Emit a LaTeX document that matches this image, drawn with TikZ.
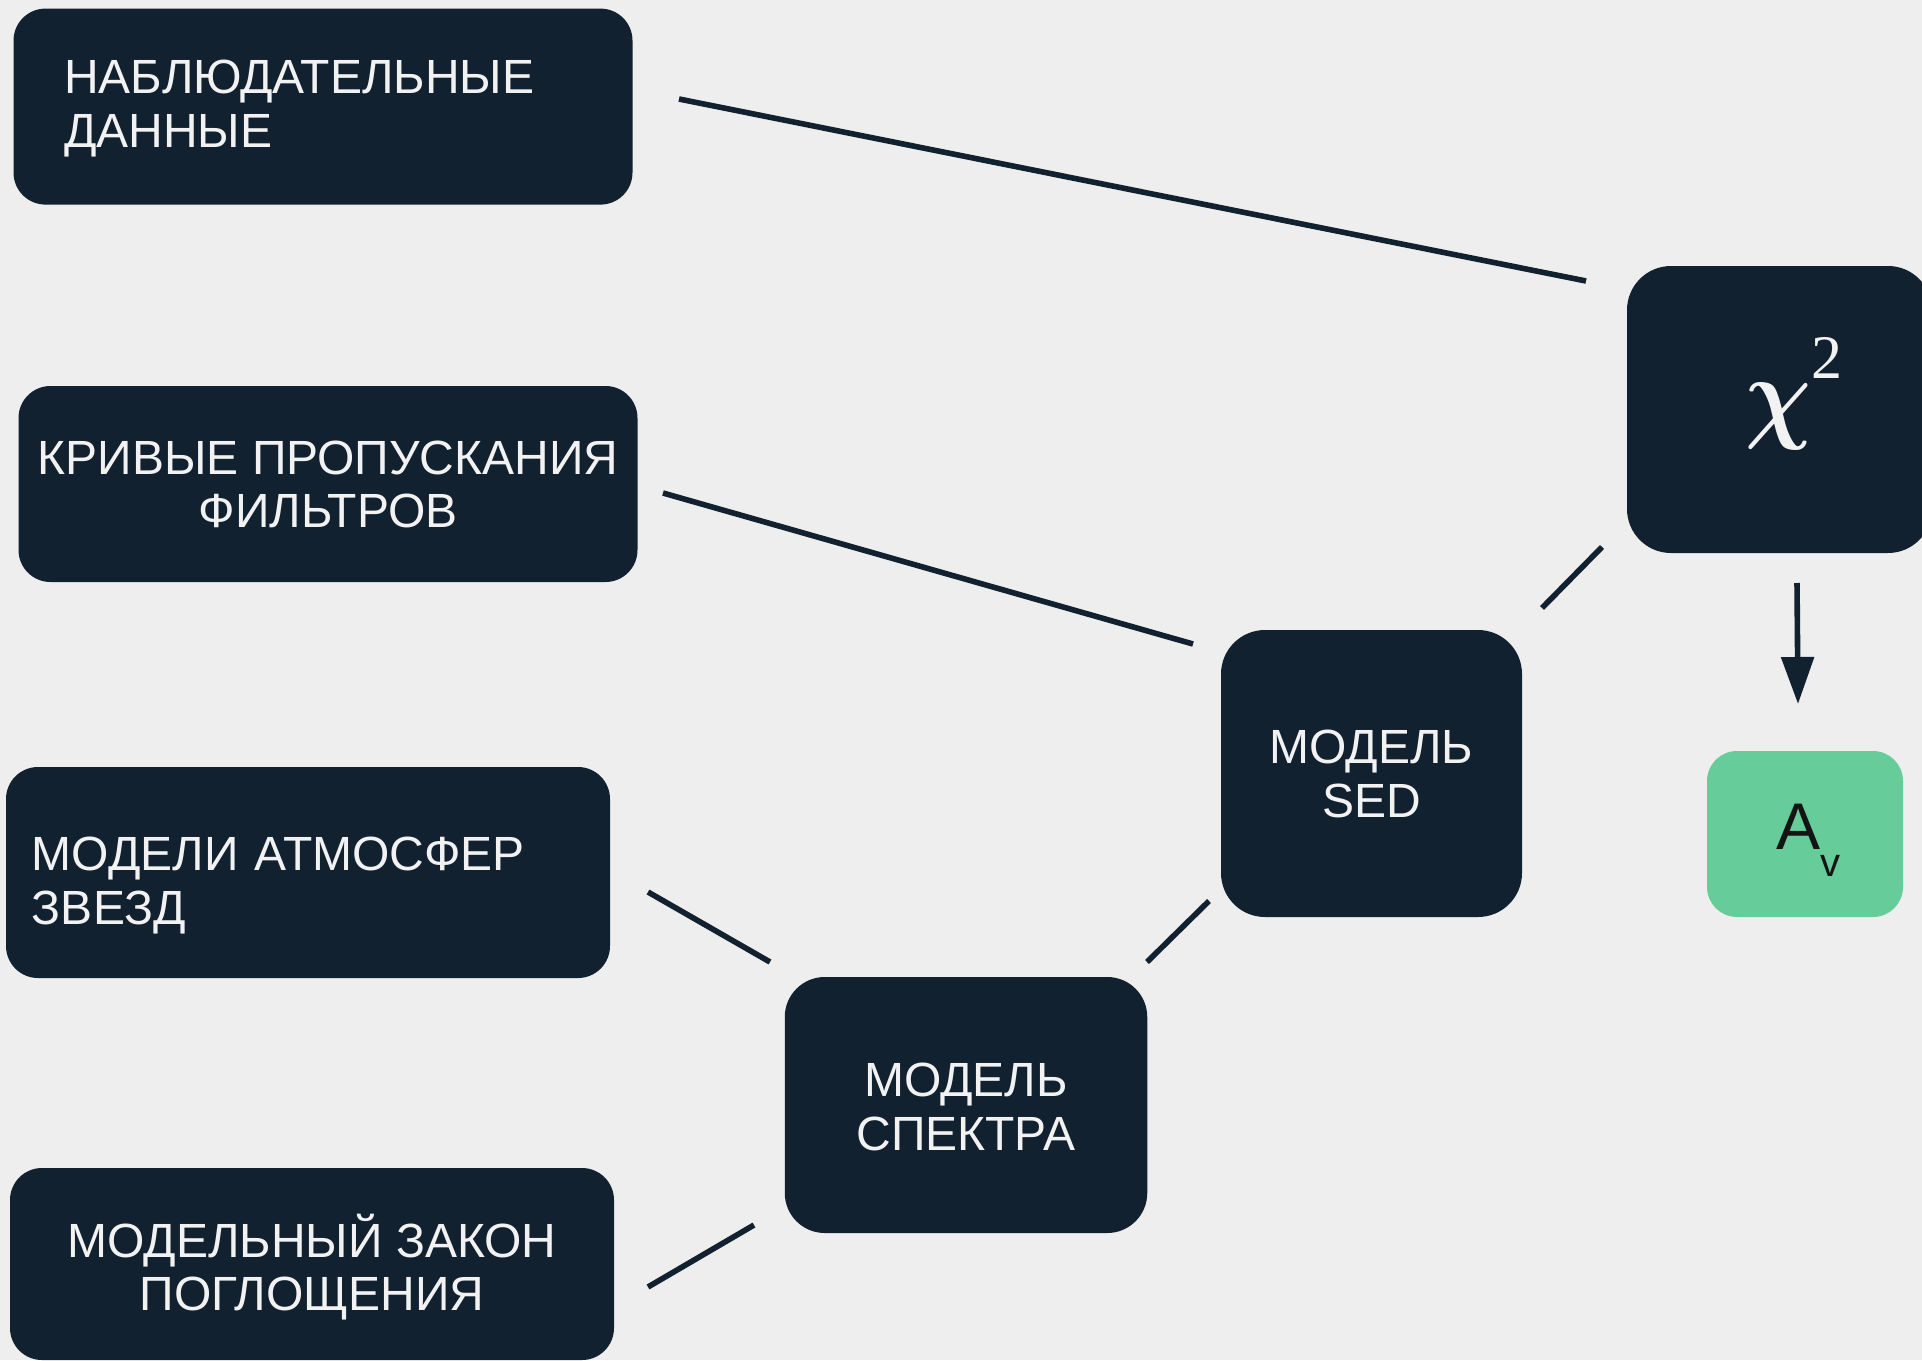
\documentclass[tikz,border=0pt]{standalone}
\usepackage{fontspec}
\usepackage{graphicx}
\setmainfont{Liberation Sans}
\newfontfamily\serifchi{Liberation Serif}
\usetikzlibrary{arrows.meta}
\definecolor{navy}{HTML}{12212F}
\definecolor{bg}{HTML}{EEEEEE}
\definecolor{mint}{HTML}{66CC99}
\definecolor{txt}{HTML}{F2F2F2}
% two-line label with fixed height H and depth D
\newcommand{\twoline}[4]{\rule{0pt}{#1}#3\\#4\rule[-#2]{0pt}{#2}}
\begin{document}
\begin{tikzpicture}[x=0.5pt,y=-0.5pt,
  box/.style={fill=navy, rounded corners=#1, text=txt, inner sep=0pt,
    font=\fontsize{24pt}{26.8pt}\selectfont},
  box/.default=16pt,
  link/.style={draw=navy, line width=2.8pt},
  arrowlink/.style={draw=navy, line width=2.8pt, -{Triangle[width=16pt,length=23.5pt]}}]
\fill[bg] (0,0) rectangle (1922,1360);
\useasboundingbox (0,0) rectangle (1922,1360);
\clip (0,0) rectangle (1922,1360);

\node[box=16pt, minimum width=309.5pt, minimum height=98pt, text width=259pt, align=left]
  (obs) at (323,106.6) {\twoline{23pt}{9pt}{НАБЛЮДАТЕЛЬНЫЕ}{ДАННЫЕ}};
\node[box=16pt, minimum width=309.5pt, minimum height=98pt, align=center]
  (filt) at (328,484) {\twoline{23pt}{6pt}{КРИВЫЕ ПРОПУСКАНИЯ}{ФИЛЬТРОВ}};
\node[box=16pt, minimum width=302pt, minimum height=105.5pt, text width=276pt, align=left]
  (atm) at (308,872.5) {\twoline{31pt}{6pt}{МОДЕЛИ АТМОСФЕР}{ЗВЕЗД}};
\node[box=16pt, minimum width=302pt, minimum height=96pt, align=center]
  (ext) at (312,1264) {\twoline{26pt}{6pt}{МОДЕЛЬНЫЙ ЗАКОН}{ПОГЛОЩЕНИЯ}};
\node[box=20pt, minimum width=181.25pt, minimum height=128pt, align=center]
  (spec) at (966,1105) {\twoline{24.5pt}{6pt}{МОДЕЛЬ}{СПЕКТРА}};
\node[box=22pt, minimum width=150.5pt, minimum height=143.5pt, align=center]
  (sed) at (1371.5,773.5) {\twoline{23pt}{6pt}{МОДЕЛЬ}{SED}};
\node[box=22pt, minimum width=152.5pt, minimum height=143.5pt, text height=20pt, text depth=0pt]
  (chi) at (1779.5,409.5) {\makebox[100pt][l]{\hspace*{33pt}\fontsize{10pt}{10pt}\selectfont\scalebox{4.6}[5.2]{\boldmath$\chi$}\hspace*{0pt}\raisebox{25.5pt}{\serifchi\fontsize{31pt}{31pt}\selectfont 2}}};
\node[fill=mint, rounded corners=15pt, inner sep=0pt, minimum width=98pt, minimum height=83pt,
  text=black!92, text height=15pt, text depth=0pt, font=\fontsize{33pt}{33pt}\selectfont]
  (av) at (1805,834) {\hspace*{3pt}A\raisebox{-13.5pt}{\fontsize{20pt}{20pt}\selectfont v}};

\coordinate (l1a) at (679,99);   \coordinate (l1b) at (1586,281);
\coordinate (l2a) at (663,493);  \coordinate (l2b) at (1193,644);
\coordinate (l3a) at (1542,608); \coordinate (l3b) at (1602,547);
\coordinate (l4a) at (648,892);  \coordinate (l4b) at (770,962);
\coordinate (l5a) at (1147,962); \coordinate (l5b) at (1209,901);
\coordinate (l6a) at (648,1287); \coordinate (l6b) at (754,1225);
\coordinate (a1) at (1797,583);  \coordinate (a2) at (1798,704);

\draw[link] (l1a) -- (l1b);
\draw[link] (l2a) -- (l2b);
\draw[link] (l3a) -- (l3b);
\draw[link] (l4a) -- (l4b);
\draw[link] (l5a) -- (l5b);
\draw[link] (l6a) -- (l6b);
\draw[arrowlink] (a1) -- (a2);
\end{tikzpicture}
\end{document}
